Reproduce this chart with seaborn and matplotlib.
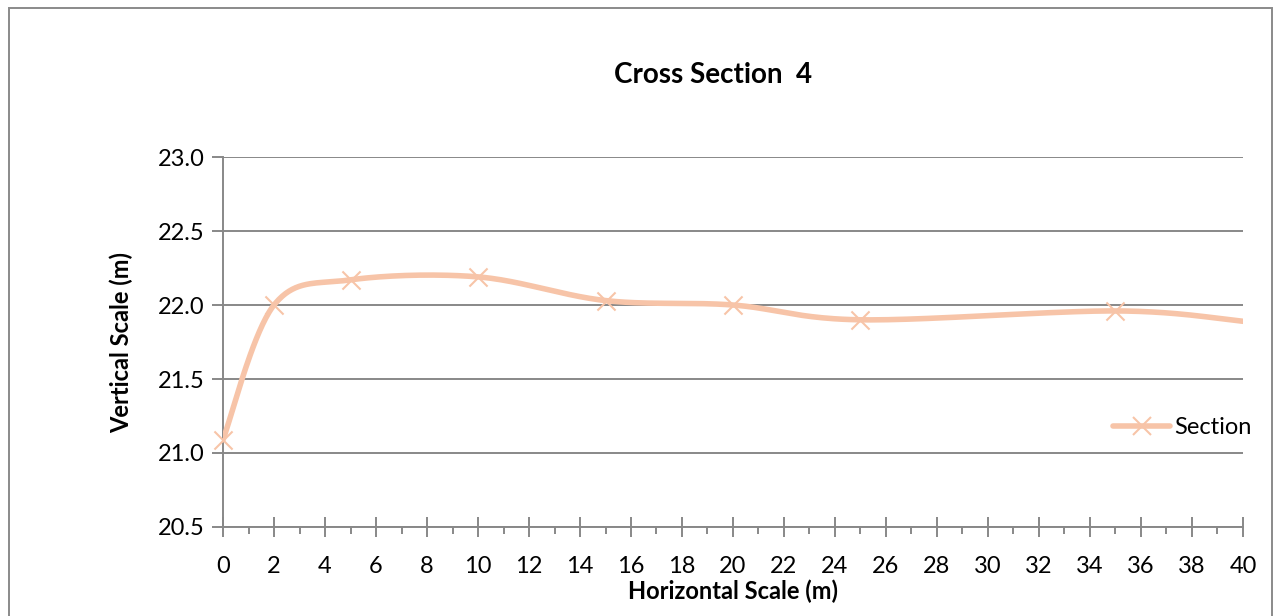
import numpy as np
import pandas as pd
import matplotlib
matplotlib.use("Agg")
import matplotlib.pyplot as plt
import seaborn as sns
from matplotlib.lines import Line2D
from matplotlib.patches import Rectangle

# Surveyed cross-section points
distance_m = [0, 2, 5, 10, 15, 20, 25, 35, 40]
elevation_m = [21.09, 22.0, 22.17, 22.19, 22.03, 22.0, 21.90, 21.96, 21.89]
x_ticks = list(range(0, 41, 2))
y_ticks = [20.5, 21.0, 21.5, 22.0, 22.5, 23.0]
series_name = "Section"

LINE_COLOR = "#F7C4A8"
GRID_COLOR = "#888888"


def smooth_curve(xs, ys, sx, sy, n=40):
    """Bezier smoothing (Catmull-Rom style, tension 1/6) computed in a
    screen-proportional space so the curve shape is independent of units."""
    px = np.asarray(xs, float) * sx
    py = np.asarray(ys, float) * sy
    pts = np.column_stack([px, py])
    out = []
    m = len(pts)
    for i in range(m - 1):
        p0 = pts[i - 1] if i > 0 else pts[i]
        p1 = pts[i]
        p2 = pts[i + 1]
        p3 = pts[i + 2] if i + 2 < m else pts[i + 1]
        c1 = p1 + (p2 - p0) / 6.0
        c2 = p2 - (p3 - p1) / 6.0
        t = np.linspace(0, 1, n)[:, None]
        seg = ((1 - t) ** 3) * p1 + 3 * ((1 - t) ** 2) * t * c1 + 3 * (1 - t) * t ** 2 * c2 + t ** 3 * p2
        out.append(seg if i == 0 else seg[1:])
    curve = np.vstack(out)
    return curve[:, 0] / sx, curve[:, 1] / sy


sns.set_theme(style="white")
plt.rcParams["font.family"] = ["Lato", "DejaVu Sans"]
plt.rcParams["text.color"] = "black"
plt.rcParams["axes.labelcolor"] = "black"
plt.rcParams["xtick.labelcolor"] = "black"
plt.rcParams["ytick.labelcolor"] = "black"

fig = plt.figure(figsize=(12.78, 6.16), dpi=100)
ax = fig.add_axes([0.1745, 0.1445, 0.7981, 0.6006])

# pixels per data unit along each axis
sx = 1020 / 40.0
sy = 148 / 1.0
cx, cy = smooth_curve(distance_m, elevation_m, sx, sy)
curve_df = pd.DataFrame({"x": cx, "y": cy})
pts_df = pd.DataFrame({"x": distance_m[:-1], "y": elevation_m[:-1]})

sns.lineplot(data=curve_df, x="x", y="y", sort=False, estimator=None, ax=ax,
             color=LINE_COLOR, linewidth=4.0, solid_capstyle="round", zorder=3)
sns.scatterplot(data=pts_df, x="x", y="y", ax=ax, marker="x", s=170,
                color=LINE_COLOR, linewidth=1.5, zorder=4, clip_on=False)

ax.set_xlim(0, 40)
ax.set_ylim(20.5, 23.0)
ax.set_xticks(x_ticks)
ax.set_xticks(range(1, 40, 2), minor=True)
ax.set_yticks(y_ticks)
ax.set_yticklabels([f"{v:.1f}" for v in y_ticks])
ax.set_xticklabels([str(v) for v in x_ticks])

ax.grid(axis="y", color=GRID_COLOR, linewidth=1.4)
ax.grid(axis="x", visible=False)
for side in ("top", "right"):
    ax.spines[side].set_visible(False)
for side in ("left", "bottom"):
    ax.spines[side].set_color(GRID_COLOR)
    ax.spines[side].set_linewidth(1.4)

ax.tick_params(axis="y", which="major", direction="out", length=8, width=1.4,
               color=GRID_COLOR, labelsize=17, pad=5, left=True)
ax.tick_params(axis="x", which="major", direction="inout", length=14, width=1.4,
               color=GRID_COLOR, labelsize=17, pad=14, bottom=True)
ax.tick_params(axis="x", which="minor", direction="out", length=5, width=1.4,
               color=GRID_COLOR, bottom=True)

ax.set_xlabel("Horizontal Scale (m)", fontsize=17, fontweight="bold", labelpad=2)
ax.set_ylabel("Vertical Scale (m)", fontsize=17, fontweight="bold", labelpad=18)
fig.text(0.558, 0.878, "Cross Section  4", ha="center", va="center",
         fontsize=20, fontweight="bold")

handle = Line2D([], [], color=LINE_COLOR, linewidth=4.0, marker="x",
                markersize=13, markeredgewidth=1.5, solid_capstyle="round")
leg = ax.legend([handle], [series_name], loc="center left",
                bbox_to_anchor=(0.8635, 0.268), frameon=False, fontsize=17,
                handlelength=2.4, handletextpad=0.2, borderaxespad=0)

# outer chart frame
fig.patches.append(Rectangle((9 / 1278, -0.05), 1263 / 1278, 1 - 8 / 616 + 0.05,
                             transform=fig.transFigure, fill=False,
                             edgecolor="#8a8a8a", linewidth=1.4))

fig.savefig("out.png", dpi=100, facecolor="white")
